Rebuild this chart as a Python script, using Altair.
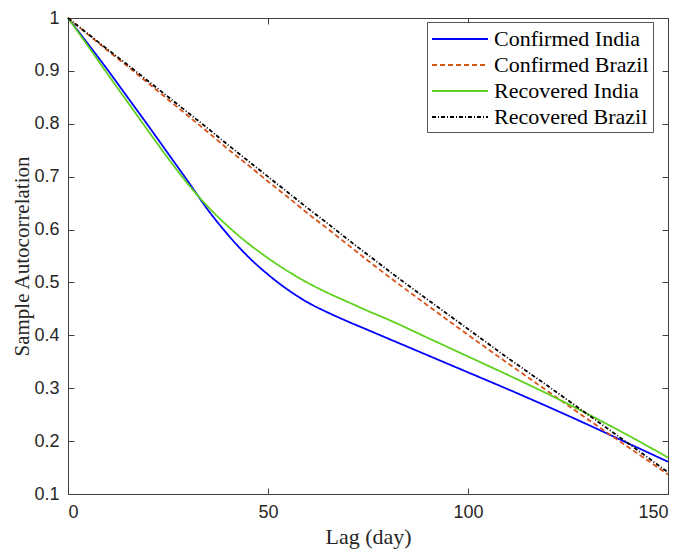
import altair as alt
import pandas as pd

lags = [0, 5, 10, 15, 20, 25, 30, 35, 40, 45, 50, 55, 60, 65, 70, 75, 80, 90, 100, 110, 120, 130, 140, 150]
confirmed_india = [1.0, 0.951, 0.901, 0.849, 0.797, 0.744, 0.691, 0.637, 0.590, 0.549, 0.515, 0.486,
                   0.462, 0.443, 0.426, 0.410, 0.394, 0.362, 0.330, 0.298, 0.265, 0.231, 0.196, 0.161]
confirmed_brazil = [1.0, 0.969, 0.938, 0.908, 0.877, 0.846, 0.815, 0.784, 0.752, 0.722, 0.691, 0.661,
                    0.630, 0.601, 0.571, 0.541, 0.512, 0.456, 0.401, 0.347, 0.294, 0.241, 0.189, 0.137]
recovered_india = [1.0, 0.947, 0.893, 0.840, 0.787, 0.735, 0.686, 0.643, 0.606, 0.574, 0.546, 0.521,
                   0.499, 0.480, 0.463, 0.446, 0.430, 0.395, 0.360, 0.325, 0.289, 0.251, 0.211, 0.169]
recovered_brazil = [1.0, 0.970, 0.940, 0.911, 0.881, 0.851, 0.821, 0.791, 0.760, 0.730, 0.700, 0.670,
                    0.640, 0.611, 0.581, 0.552, 0.523, 0.467, 0.412, 0.357, 0.304, 0.250, 0.196, 0.141]

series_names = ["Confirmed India", "Confirmed Brazil", "Recovered India", "Recovered Brazil"]
series_values = [confirmed_india, confirmed_brazil, recovered_india, recovered_brazil]
colors = ["#0000FF", "#D95319", "#5ED01E", "#000000"]
dashes = [[1, 0], [5, 3], [1, 0], [4, 2, 1, 2]]
x_ticks = [0, 50, 100, 150]
y_ticks = [0.1, 0.2, 0.3, 0.4, 0.5, 0.6, 0.7, 0.8, 0.9, 1.0]

rows = []
for name, vals in zip(series_names, series_values):
    for lag, v in zip(lags, vals):
        rows.append({"lag": lag, "value": v, "series": name})
df = pd.DataFrame(rows)

W, H = 600, 476
AXC = "#404040"
xscale = alt.Scale(domain=[0, 150], nice=False, zero=False)
yscale = alt.Scale(domain=[0.1, 1.0], nice=False, zero=False)

legend = alt.Legend(
    title=None, orient="none", legendX=359, legendY=4,
    symbolType="M-2.333,0H2.333", symbolSize=576, symbolStrokeWidth=1.8,
    symbolOffset=16, labelOffset=21,
    labelFont="Liberation Serif", labelFontSize=22, labelColor="#000000", labelLimit=400,
    rowPadding=2, padding=4, strokeColor="#555555", fillColor="white",
)

main = alt.Chart(df).mark_line(strokeWidth=1.8, interpolate="monotone").encode(
    x=alt.X("lag:Q", scale=xscale,
            axis=alt.Axis(orient="bottom", values=x_ticks, ticks=False, tickSize=0, domain=False,
                          grid=False, labelPadding=9, labelFont="Liberation Sans", labelFontSize=18,
                          labelColor="#262626", title="Lag (day)", titleFont="Liberation Serif",
                          titleFontSize=22, titleFontWeight="normal", titleColor="#262626",
                          titlePadding=5)),
    y=alt.Y("value:Q", scale=yscale,
            axis=alt.Axis(orient="left", values=y_ticks, ticks=False, tickSize=0, domain=False,
                          grid=False, labelPadding=9, labelFont="Liberation Sans", labelFontSize=18,
                          labelColor="#262626",
                          labelExpr="datum.value == 1 ? '1' : format(datum.value, '.1f')",
                          title="Sample Autocorrelation", titleFont="Liberation Serif",
                          titleFontSize=21, titleFontWeight="normal", titleColor="#262626",
                          titlePadding=1)),
    color=alt.Color("series:N", scale=alt.Scale(domain=series_names, range=colors), legend=legend),
    strokeDash=alt.StrokeDash("series:N", scale=alt.Scale(domain=series_names, range=dashes), legend=legend),
)

def tick_axis(orient, values, offset):
    return alt.Axis(orient=orient, values=values, offset=offset, labels=False, domain=False,
                    grid=False, ticks=True, tickSize=6, tickColor=AXC, tickWidth=1, title=None)

ticks_a = alt.Chart(df).mark_line(strokeOpacity=0).encode(
    x=alt.X("lag:Q", scale=xscale, axis=tick_axis("top", x_ticks, -H)),
    y=alt.Y("value:Q", scale=yscale, axis=tick_axis("right", y_ticks, -W)),
    detail="series:N",
)
ticks_b = alt.Chart(df).mark_line(strokeOpacity=0).encode(
    x=alt.X("lag:Q", scale=xscale, axis=tick_axis("bottom", x_ticks, -H)),
    y=alt.Y("value:Q", scale=yscale, axis=tick_axis("left", y_ticks, -W)),
    detail="series:N",
)

chart = alt.layer(main, ticks_a, ticks_b).resolve_axis(
    x="independent", y="independent"
).properties(
    width=W, height=H,
    autosize=alt.AutoSizeParams(type="none"),
    padding={"left": 60, "top": 10, "right": 9, "bottom": 60},
    background="white",
).configure_view(stroke=AXC, strokeWidth=1)

chart.save("out.html", embed_options={"renderer": "svg", "actions": False})
